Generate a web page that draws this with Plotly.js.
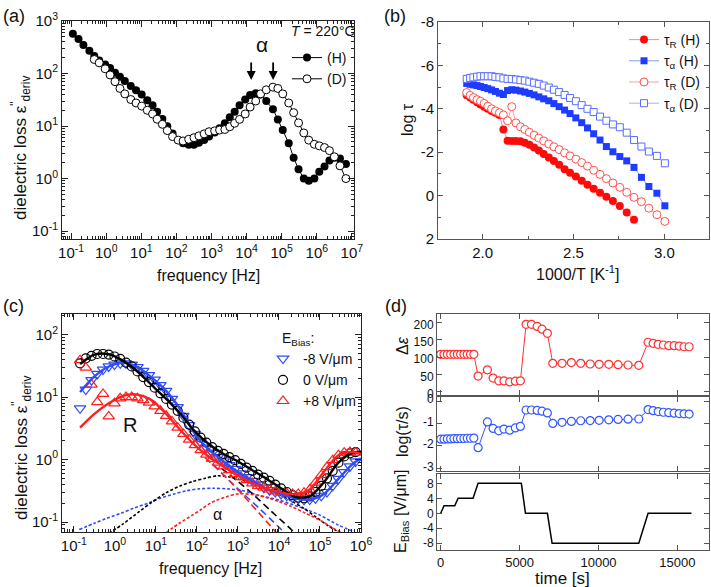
<!DOCTYPE html>
<html><head><meta charset="utf-8">
<script src="https://cdn.plot.ly/plotly-3.0.1.min.js"></script>
<style>html,body{margin:0;padding:0;background:#fff}#chart{width:711px;height:587px}</style>
</head><body><div id="chart"></div>
<script>
// ---------- Panel (a): dielectric loss vs frequency, T = 220 C ----------
const aLogFreq = [-0.95,-0.79,-0.65,-0.48,-0.34,-0.20,-0.03,0.11,0.25,0.39,0.53,0.70,0.85,1.01,1.17,1.32,1.45,1.60,1.74,1.89,2.05,2.19,2.35,2.50,2.64,2.79,2.93,3.09,3.23,3.38,3.52,3.66,3.80,3.96,4.10,4.26,4.40,4.56,4.75,4.89,5.03,5.20,5.34,5.48,5.63,5.77,5.93,6.07,6.22,6.36,6.50,6.66,6.83];
const aLossH = [570,455,350,270,215,178,148,128,104,87,72,58,48,40,31,25,18.7,13.7,9.9,7.2,5.4,4.7,4.4,4.4,4.8,5.4,6.3,7.5,9.1,11.3,14.7,18.7,25,32,39,42,40,30,21,13.4,8.4,4.7,2.5,1.5,1.0,0.91,1.0,1.35,1.7,2.2,2.5,2.4,1.9];
const aLossD = [null,null,null,null,185,160,123,94,70,52,41,32,27.5,24,20,17,13.5,10.8,8.2,6.3,5.4,5.2,5.6,6.0,6.5,7.1,7.8,8.1,8.4,8.6,9.7,11.3,13.4,17,23,30,41,49,55,52,41,27.5,18,11.5,7.4,5.4,4.5,4.2,3.9,3.4,2.6,1.75,1.0];
const aAlphaPeakFreq = [1.35e4, 5.7e4];
const aArrowTipLoss = [75, 75];

// ---------- Panel (b): log tau vs 1000/T ----------
const bInvT = [1.912,1.931,1.949,1.969,1.988,2.008,2.028,2.049,2.070,2.092,2.114,2.137,2.160,2.183,2.208,2.232,2.257,2.283,2.309,2.336,2.364,2.392,2.421,2.451,2.481,2.513,2.545,2.577,2.611,2.646,2.681,2.717,2.755,2.793,2.833,2.874,2.915,2.959,3.003];
const bTauRH = [-4.63,-4.52,-4.42,-4.30,-4.20,-4.10,-4.00,-3.90,-3.82,-3.72,-3.05,-2.53,-2.52,-2.52,-2.50,-2.44,-2.34,-2.22,-2.08,-1.92,-1.76,-1.60,-1.42,-1.22,-1.05,-0.88,-0.68,-0.50,-0.32,-0.13,0.05,0.25,0.48,0.78,1.11];
const bTauAH = [-5.17,-5.13,-5.10,-5.07,-5.03,-4.98,-4.93,-4.87,-4.80,-4.72,-4.66,-4.84,-4.88,-4.86,-4.82,-4.77,-4.71,-4.64,-4.55,-4.46,-4.37,-4.24,-4.10,-3.94,-3.78,-3.58,-3.36,-3.12,-2.85,-2.56,-2.26,-2.02,-1.80,-1.60,-1.30,-0.84,-0.42,-0.11,0.47];
const bTauRD = [-4.75,-4.62,-4.52,-4.42,-4.35,-4.25,-4.12,-4.00,-3.90,-3.82,-3.72,-3.45,-4.10,-3.35,-3.17,-3.05,-2.92,-2.78,-2.65,-2.52,-2.38,-2.25,-2.12,-1.97,-1.83,-1.68,-1.52,-1.36,-1.17,-0.98,-0.78,-0.58,-0.38,-0.15,0.08,0.28,0.58,0.88,1.19];
const bTauAD = [-5.38,-5.42,-5.45,-5.48,-5.50,-5.50,-5.50,-5.50,-5.47,-5.45,-5.40,-5.38,-5.37,-5.35,-5.32,-5.30,-5.25,-5.20,-5.15,-5.07,-4.98,-4.88,-4.77,-4.64,-4.50,-4.35,-4.17,-4.00,-3.85,-3.64,-3.45,-3.28,-3.15,-2.90,-2.56,-2.26,-2.03,-1.83,-1.49];

// ---------- Panel (c): loss spectra under bias field (log10 values) ----------
const cLogFreq = [-0.85,-0.71,-0.57,-0.43,-0.29,-0.15,-0.01,0.13,0.27,0.41,0.55,0.69,0.83,0.97,1.11,1.25,1.39,1.53,1.67,1.81,1.95,2.09,2.23,2.37,2.51,2.65,2.79,2.93,3.07,3.21,3.35,3.49,3.63,3.77,3.91,4.05,4.19,4.33,4.47,4.61,4.75,4.89,5.03,5.17,5.31,5.45,5.59,5.73,5.87];
const cLogNeg8 = [0.82,1.12,1.27,1.37,1.44,1.49,1.52,1.54,1.54,1.52,1.48,1.42,1.35,1.28,1.19,1.10,0.97,0.84,0.70,0.55,0.41,0.28,0.19,0.11,0.04,-0.03,-0.09,-0.15,-0.22,-0.28,-0.34,-0.40,-0.45,-0.49,-0.52,-0.55,-0.58,-0.61,-0.63,-0.645,-0.64,-0.62,-0.58,-0.52,-0.42,-0.31,-0.20,-0.11,-0.03];
const cLogZero = [1.54,1.62,1.66,1.69,1.69,1.68,1.65,1.61,1.55,1.49,1.41,1.32,1.24,1.15,1.06,0.97,0.88,0.78,0.67,0.56,0.45,0.35,0.27,0.20,0.14,0.09,0.04,-0.01,-0.07,-0.13,-0.18,-0.24,-0.29,-0.34,-0.40,-0.46,-0.52,-0.57,-0.61,-0.62,-0.59,-0.52,-0.42,-0.30,-0.18,-0.05,0.05,0.10,0.12];
const cLogPos8 = [1.59,1.47,1.20,0.92,1.05,0.69,0.90,0.98,1.00,1.00,0.98,0.95,0.91,0.85,0.78,0.70,0.61,0.51,0.41,0.32,0.23,0.15,0.08,0.01,-0.05,-0.11,-0.17,-0.23,-0.28,-0.33,-0.38,-0.42,-0.45,-0.48,-0.51,-0.53,-0.54,-0.55,-0.55,-0.53,-0.48,-0.37,-0.25,-0.12,-0.01,0.07,0.11,0.12,0.11];
const cFitLogFreq = [-0.85,-0.5,-0.15,0.2,0.55,0.9,1.25,1.6,1.95,2.3,2.65,3.0,3.35,3.7,4.05,4.4,4.75,5.1,5.45,5.8,6.0];
const cFitNeg8 = [1.08,1.33,1.49,1.55,1.48,1.31,1.10,0.80,0.41,0.15,-0.03,-0.20,-0.34,-0.47,-0.55,-0.625,-0.64,-0.55,-0.31,-0.07,0.02];
const cFitZero = [1.53,1.68,1.685,1.58,1.41,1.19,0.97,0.73,0.45,0.24,0.09,-0.03,-0.17,-0.31,-0.46,-0.60,-0.59,-0.36,-0.05,0.11,0.12];
const cFitPos8 = [0.51,0.73,0.90,1.02,1.04,0.95,0.73,0.47,0.23,0.04,-0.11,-0.26,-0.38,-0.47,-0.53,-0.555,-0.48,-0.19,0.07,0.12,0.09];
const cAlphaZeroF = [-0.15,0.2,0.6,0.9,1.25,1.6,1.9,2.2,2.5,2.8,3.1,3.4,3.7,4.0,4.3,4.6,4.9,5.2,5.5];
const cAlphaZero = [-1.18,-1.03,-0.83,-0.685,-0.53,-0.42,-0.35,-0.30,-0.26,-0.28,-0.33,-0.39,-0.46,-0.56,-0.66,-0.78,-0.92,-1.06,-1.18];
const cAlphaNeg8F = [-0.87,-0.5,-0.2,0.15,0.45,0.8,1.1,1.45,1.75,2.05,2.4,2.75,3.05,3.5,4.0,4.5,5.0,5.45,5.85];
const cAlphaNeg8 = [-1.12,-1.02,-0.94,-0.86,-0.78,-0.70,-0.62,-0.55,-0.50,-0.47,-0.46,-0.47,-0.49,-0.57,-0.65,-0.76,-0.89,-1.05,-1.16];
const cAlphaPos8F = [1.25,1.57,1.89,2.1,2.35,2.7,3.0,3.35,3.7,4.0,4.3,4.65,5.0,5.3,5.5];
const cAlphaPos8 = [-1.17,-1.02,-0.89,-0.80,-0.69,-0.60,-0.55,-0.56,-0.61,-0.675,-0.75,-0.86,-0.97,-1.09,-1.16];
const cRZeroF = [2.6,3.27,3.8,4.4];   const cRZero = [-0.14,-0.50,-0.82,-1.18];
const cRNeg8F = [2.4,2.87,3.5,4.15];  const cRNeg8 = [-0.08,-0.39,-0.77,-1.18];
const cRPos8F = [2.2,2.75,3.3,3.95];  const cRPos8 = [0.03,-0.31,-0.70,-1.18];

// ---------- Panel (d): time series ----------
const dTime = [0,210,420,630,840,1050,1260,1470,1680,1890,2100,2370,2960,3320,3680,4010,4370,4730,5050,5410,5750,6110,6420,6760,7100,7690,8280,8870,9470,10040,10650,11240,11870,12550,13140,13460,13780,14110,14450,14790,15110,15420,15740];
const dDeltaEps = [108,108,108,108,108,108,108,108,108,108,108,45,63,39,31,31,28,30,31,195,195,189,181,169,82,82,84,82,80,79,79,78,77,76,143,140,137,135,133,133,132,130,130];
const dLogTau = [-1.70,-1.70,-1.69,-1.69,-1.68,-1.68,-1.67,-1.67,-1.66,-1.66,-1.65,-2.08,-0.93,-1.22,-1.33,-1.25,-1.30,-1.20,-1.13,-0.40,-0.40,-0.42,-0.45,-0.53,-1.00,-0.95,-0.91,-0.88,-0.87,-0.86,-0.84,-0.82,-0.81,-0.80,-0.38,-0.43,-0.47,-0.50,-0.52,-0.54,-0.56,-0.57,-0.58];
const dBiasTime = [0,210,890,1100,2050,2370,5110,5370,6760,7060,12550,13140,15890];
const dBias = [0,2,2,4,4,8,8,0,0,-8,-8,0,0];

// ---------- helpers ----------
const W = 711, H = 587;
const FONT = 'Liberation Sans, Arial, sans-serif';
const p10 = v => (v === null ? null : Math.pow(10, v));
const xd = (a, b) => [a / W, b / W];
const yd = (top, bottom) => [1 - bottom / H, 1 - top / H];
const px = p => p / W, py = p => 1 - p / H;

function decades(lo, hi) {
  const vals = [], text = [];
  for (let p = lo; p <= hi; p++) { vals.push(Math.pow(10, p)); text.push('10<sup>' + p + '</sup>'); }
  return {vals, text};
}
function minorDecades(lo, hi) {
  const v = [];
  for (let p = lo; p <= hi; p++) for (let k = 2; k <= 9; k++) v.push(k * Math.pow(10, p));
  return v;
}
function logAxis(domain, range, lo, hi, anchor, col) {
  const d = decades(lo, hi);
  return {domain, type: 'log', range, anchor, tickmode: 'array', tickvals: d.vals, ticktext: d.text,
    ticks: 'inside', ticklen: 6, tickcolor: col, mirror: 'ticks', showline: true, linecolor: col, linewidth: 1,
    showgrid: false, zeroline: false, tickfont: {size: 15, color: '#111', family: FONT},
    minor: {tickmode: 'array', tickvals: minorDecades(lo - 1, hi), ticks: 'inside', ticklen: 3, tickcolor: col}};
}
function linAxis(domain, range, vals, text, anchor, col, minorDtick, fs) {
  const ax = {domain, range, anchor, tickmode: 'array', tickvals: vals, ticktext: text,
    ticks: 'inside', ticklen: 5, tickcolor: col, mirror: 'ticks', showline: true, linecolor: col, linewidth: 1,
    showgrid: false, zeroline: false, tickfont: {size: fs || 15, color: '#111', family: FONT}};
  if (minorDtick) ax.minor = {dtick: minorDtick, ticks: 'inside', ticklen: 3, tickcolor: col};
  return ax;
}

const traces = [];
// Panel a
traces.push({x: aLogFreq.map(p10), y: aLossH, xaxis: 'x', yaxis: 'y', mode: 'lines+markers', name: '(H)', legend: 'legend',
  line: {color: '#000', width: 1}, marker: {symbol: 'circle', size: 8, color: '#000'}});
traces.push({x: aLogFreq.map(p10), y: aLossD, xaxis: 'x', yaxis: 'y', mode: 'lines+markers', name: '(D)', legend: 'legend',
  line: {color: '#000', width: 1}, marker: {symbol: 'circle', size: 8, color: '#fff', line: {color: '#000', width: 1}}});

// Panel b
const RED = '#ff0a0a', BLUE = '#1e3cff';
traces.push({x: bInvT.slice(0, bTauRH.length), y: bTauRH, xaxis: 'x2', yaxis: 'y2', mode: 'lines+markers', name: 'τ<sub>R</sub> (H)', legend: 'legend2',
  line: {color: '#ff8c8c', width: 1}, marker: {symbol: 'circle', size: 8, color: RED}});
traces.push({x: bInvT, y: bTauAH, xaxis: 'x2', yaxis: 'y2', mode: 'lines+markers', name: 'τ<sub>α</sub> (H)', legend: 'legend2',
  line: {color: '#8a9aff', width: 1}, marker: {symbol: 'square', size: 7, color: BLUE}});
traces.push({x: bInvT, y: bTauRD, xaxis: 'x2', yaxis: 'y2', mode: 'lines+markers', name: 'τ<sub>R</sub> (D)', legend: 'legend2',
  line: {color: '#ff9c9c', width: 1}, marker: {symbol: 'circle', size: 8, color: '#fff', line: {color: '#ff5050', width: 1}}});
traces.push({x: bInvT, y: bTauAD, xaxis: 'x2', yaxis: 'y2', mode: 'lines+markers', name: 'τ<sub>α</sub> (D)', legend: 'legend2',
  line: {color: '#a8b0ff', width: 1}, marker: {symbol: 'square', size: 7, color: '#fff', line: {color: '#5a6cff', width: 1}}});

// Panel c
const CB = '#2f4cf5', CK = '#000', CR = '#ff1e1e';
function cLine(f, v, col, dash, w) {
  return {x: f.map(p10), y: v.map(p10), xaxis: 'x3', yaxis: 'y3', mode: 'lines', showlegend: false, hoverinfo: 'skip',
    line: {color: col, width: w, dash: dash, shape: 'spline', smoothing: 0.8}};
}
traces.push(cLine(cAlphaNeg8F, cAlphaNeg8, CB, '3px,2px', 1.6));
traces.push(cLine(cAlphaZeroF, cAlphaZero, CK, '3px,2px', 1.6));
traces.push(cLine(cAlphaPos8F, cAlphaPos8, CR, '3px,2px', 1.6));
traces.push(cLine(cRNeg8F, cRNeg8, CB, '7px,4px', 1.6));
traces.push(cLine(cRZeroF, cRZero, CK, '7px,4px', 1.6));
traces.push(cLine(cRPos8F, cRPos8, CR, '7px,4px', 1.6));
traces.push({x: cLogFreq.map(p10), y: cLogNeg8.map(p10), xaxis: 'x3', yaxis: 'y3', mode: 'markers', name: '-8 V/μm', legend: 'legend3',
  marker: {symbol: 'triangle-down-open', size: 10, color: CB, line: {width: 1.2}}});
traces.push({x: cLogFreq.map(p10), y: cLogZero.map(p10), xaxis: 'x3', yaxis: 'y3', mode: 'markers', name: '0 V/μm', legend: 'legend3',
  marker: {symbol: 'circle-open', size: 9, color: CK, line: {width: 1.2}}});
traces.push({x: cLogFreq.map(p10), y: cLogPos8.map(p10), xaxis: 'x3', yaxis: 'y3', mode: 'markers', name: '+8 V/μm', legend: 'legend3',
  marker: {symbol: 'triangle-up-open', size: 10, color: CR, line: {width: 1.2}}});
traces.push(cLine(cFitLogFreq, cFitNeg8, CB, 'solid', 2.4));
traces.push(cLine(cFitLogFreq, cFitZero, CK, 'solid', 2.4));
traces.push(cLine(cFitLogFreq, cFitPos8, CR, 'solid', 2.4));

// Panel d
traces.push({x: dTime, y: dDeltaEps, xaxis: 'x4', yaxis: 'y4', mode: 'lines+markers', showlegend: false,
  line: {color: '#ff3030', width: 1}, marker: {symbol: 'circle', size: 8, color: '#fff', line: {color: '#ff3030', width: 1.2}}});
traces.push({x: dTime, y: dLogTau, xaxis: 'x5', yaxis: 'y5', mode: 'lines+markers', showlegend: false,
  line: {color: '#3356ff', width: 1}, marker: {symbol: 'circle', size: 8, color: '#fff', line: {color: '#3356ff', width: 1.2}}});
traces.push({x: dBiasTime, y: dBias, xaxis: 'x6', yaxis: 'y6', mode: 'lines', showlegend: false,
  line: {color: '#000', width: 1.5}});

const GA = '#222', GB = '#555';
const tVals = [0, 5000, 10000, 15000], tText = ['0', '5000', '10000', '15000'];
const layout = {
  width: W, height: H, margin: {l: 0, r: 0, t: 0, b: 0}, paper_bgcolor: '#fff', plot_bgcolor: '#fff',
  font: {family: FONT, color: '#111'}, showlegend: true,
  xaxis: logAxis(xd(62, 354), [-1.26, 7.06], -1, 7, 'y', GA),
  yaxis: logAxis(yd(21, 239), [-1.15, 3.0], -1, 3, 'x', GA),
  xaxis2: linAxis(xd(438, 709), [1.754, 3.246], [2.0, 2.5, 3.0], ['2.0', '2.5', '3.0'], 'y2', GB, 0.25),
  yaxis2: linAxis(yd(22, 239), [2, -8], [-8, -6, -4, -2, 0, 2], ['-8', '-6', '-4', '-2', '0', '2'], 'x2', GB, 1),
  xaxis3: logAxis(xd(62, 361), [-1.29, 6.0], -1, 6, 'y3', GA),
  yaxis3: logAxis(yd(314, 532), [-1.16, 2.33], -1, 2, 'x3', GA),
  xaxis4: Object.assign(linAxis(xd(437, 709), [-234, 17000], tVals, tText, 'y4', GB, null, 12), {showticklabels: false}),
  yaxis4: Object.assign(linAxis(yd(314, 395), [-10, 225], [0, 50, 100, 150, 200], ['0', '50', '100', '150', '200'], 'x4', GB, null, 12), {ticklabelshift: 2}),
  xaxis5: Object.assign(linAxis(xd(437, 709), [-234, 17000], tVals, tText, 'y5', GB, null, 12), {showticklabels: false}),
  yaxis5: Object.assign(linAxis(yd(397, 471), [-3.12, 0.18], [-3, -2, -1, 0], ['-3', '-2', '-1', '0'], 'x5', GB, null, 12), {ticklabelshift: -2}),
  xaxis6: linAxis(xd(437, 709), [-234, 17000], tVals, tText, 'y6', GB, null, 13),
  yaxis6: linAxis(yd(474, 550), [-9.8, 10.5], [-8, -4, 0, 4, 8], ['-8', '-4', '0', '4', '8'], 'x6', GB, null, 12),
  legend: {x: px(287), y: py(42), xanchor: 'left', yanchor: 'top', bgcolor: 'rgba(0,0,0,0)', borderwidth: 0,
    font: {size: 14, family: FONT, color: '#111'}, tracegroupgap: 0, itemwidth: 30},
  legend2: {x: px(624), y: py(24), xanchor: 'left', yanchor: 'top', bgcolor: 'rgba(0,0,0,0)', borderwidth: 0,
    font: {size: 14, family: FONT, color: '#111'}, tracegroupgap: 0, itemwidth: 30},
  legend3: {x: px(263), y: py(343), xanchor: 'left', yanchor: 'top', bgcolor: 'rgba(0,0,0,0)', borderwidth: 0,
    font: {size: 14, family: FONT, color: '#111'}, tracegroupgap: 0, itemwidth: 30},
  annotations: []
};

function txt(text, x, y, size, opts) {
  return Object.assign({text, xref: 'paper', yref: 'paper', x: px(x), y: py(y), showarrow: false,
    xanchor: 'center', yanchor: 'middle', font: {size, family: FONT, color: '#111'}}, opts || {});
}
const A = layout.annotations;
A.push(txt('(a)', 1, 16, 18, {xanchor: 'left'}));
A.push(txt('(b)', 382, 16, 18, {xanchor: 'left'}));
A.push(txt('(c)', 1, 306, 18, {xanchor: 'left'}));
A.push(txt('(d)', 383, 306, 18, {xanchor: 'left'}));
A.push(txt('frequency [Hz]', 208, 276, 16));
A.push(txt('dielectric loss ε<sup>"</sup><sub>deriv</sub>', 21, 148, 17, {textangle: -90}));
A.push(txt('1000/T [K<sup>-1</sup>]', 578, 273, 16));
A.push(txt('log τ', 408, 120, 16, {textangle: -90}));
A.push(txt('frequency [Hz]', 210, 568, 16));
A.push(txt('dielectric loss ε<sup>"</sup><sub>deriv</sub>', 21, 448, 17, {textangle: -90}));
A.push(txt('time [s]', 562, 578, 17));
A.push(txt('Δ<i>ε</i>', 402, 346, 16, {textangle: -90}));
A.push(txt('log(τ/s)', 402, 432, 16, {textangle: -90}));
A.push(txt('E<sub>Bias</sub> [V/μm]', 401, 512, 16, {textangle: -90}));
A.push(txt('<i>T</i> = 220°C', 357, 31, 14, {xanchor: 'right'}));
A.push(txt('α', 262, 44, 21));
aAlphaPeakFreq.forEach((f, i) => {
  A.push({xref: 'x', yref: 'y', x: Math.log10(f), y: Math.log10(aArrowTipLoss[i]), text: ' ', showarrow: true,
    ax: 0, ay: -26, arrowhead: 2, arrowsize: 1, arrowwidth: 1.8, arrowcolor: '#000'});
});
A.push(txt('E<sub>Bias</sub>:', 280, 339, 14, {xanchor: 'left'}));
A.push(txt('R', 130, 425, 20));
A.push(txt('α', 217, 514, 16));

Plotly.newPlot('chart', traces, layout, {staticPlot: true, displayModeBar: false});
</script></body></html>
